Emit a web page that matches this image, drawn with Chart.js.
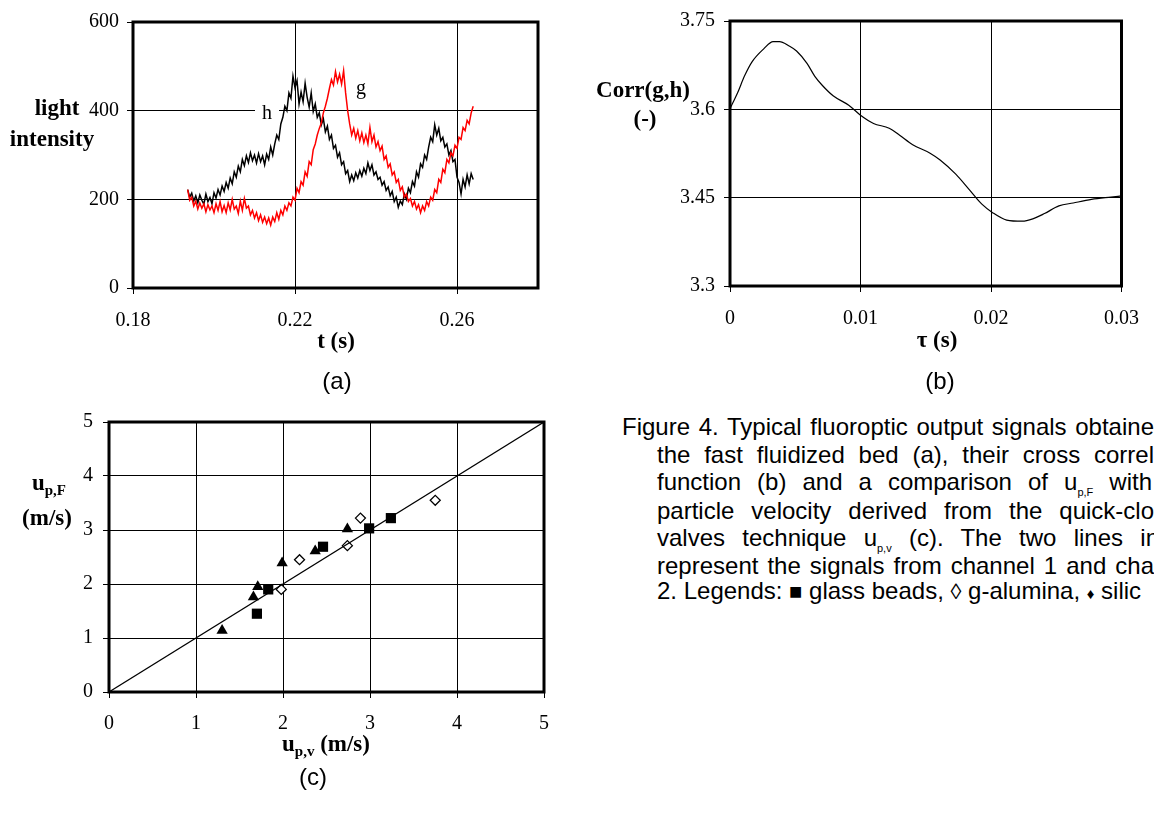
<!DOCTYPE html>
<html>
<head>
<meta charset="utf-8">
<script src="https://cdn.jsdelivr.net/npm/chart.js@4.4.0/dist/chart.umd.min.js"></script>
<style>
  html, body { margin: 0; padding: 0; background: #fff; }
  body { width: 1154px; height: 815px; overflow: hidden; position: relative; }
  canvas { position: absolute; }
  .lbl {
    position: absolute; transform: translate(-50%, -50%);
    font-family: 'Liberation Serif', 'Times New Roman', serif;
    font-weight: bold; font-size: 23px; line-height: 1; white-space: nowrap; color: #000;
  }
  .lbl sub { font-size: 15px; vertical-align: -5px; }
  .plain { font-weight: normal; font-size: 20px; }
  .panel {
    position: absolute; transform: translate(-50%, -50%);
    font-family: 'Liberation Sans', Arial, sans-serif; font-size: 24px; line-height: 1;
  }
  .cap {
    position: absolute; height: 28px; line-height: 28px;
    font-family: 'Liberation Sans', Arial, sans-serif; font-size: 24px; color: #000;
    text-align: justify; text-align-last: justify; white-space: normal;
  }
  .cap sub { font-size: 11px; vertical-align: -6px; line-height: 0; }
</style>
</head>
<body>

<canvas id="chartA" width="520" height="350" style="left:60px;top:0px"></canvas>
<canvas id="chartB" width="504" height="350" style="left:650px;top:0px"></canvas>
<canvas id="chartC" width="560" height="360" style="left:20px;top:400px"></canvas>

<div class="lbl" style="left:57px;top:107px">light</div>
<div class="lbl" style="left:52px;top:138px">intensity</div>
<div class="lbl" style="left:336px;top:340px">t (s)</div>
<div class="lbl plain" style="left:267px;top:112px;background:#fff;padding:0 7px">h</div>
<div class="lbl plain" style="left:361px;top:87px">g</div>
<div class="panel" style="left:337px;top:381px">(a)</div>

<div class="lbl" style="left:643px;top:89px">Corr(g,h)</div>
<div class="lbl" style="left:645px;top:118px">(-)</div>
<div class="lbl" style="left:937px;top:339px">τ (s)</div>
<div class="panel" style="left:940px;top:381px">(b)</div>

<div class="lbl" style="left:49px;top:484px">u<sub>p,F</sub></div>
<div class="lbl" style="left:47px;top:517px">(m/s)</div>
<div class="lbl" style="left:326px;top:745px">u<sub>p,v</sub> (m/s)</div>
<div class="panel" style="left:313px;top:777px">(c)</div>

<div class="cap" style="left:622px;top:413px;width:532px">Figure 4. Typical fluoroptic output signals obtaine</div>
<div class="cap" style="left:657px;top:441px;width:497px">the fast fluidized bed (a), their cross correl</div>
<div class="cap" style="left:657px;top:468px;width:495px">function (b) and a comparison of u<sub>p,F</sub> with</div>
<div class="cap" style="left:657px;top:497px;width:497px">particle velocity derived from the quick-clo</div>
<div class="cap" style="left:657px;top:524px;width:502px">valves technique u<sub>p,v</sub> (c). The two lines in</div>
<div class="cap" style="left:657px;top:552px;width:497px">represent the signals from channel 1 and cha</div>
<div class="cap" style="left:657px;top:577px;width:560px;text-align:left;text-align-last:left;white-space:nowrap">2. Legends: <span style="font-size:22px">■</span> glass beads, <span style="font-size:22px">◊</span> g-alumina, <span style="font-size:15px">♦</span> silic</div>

<script>
// (a) light intensity of the two fibres, sampled every 0.5 ms from t = 0.1935 s
const tStart = 0.1935;
const tStep = 0.0005;
const hSignal = [
  222, 205, 214, 196, 208, 192, 210, 198, 189, 212,
  195, 204, 190, 215, 203, 222, 210, 230, 218, 238,
  225, 248, 235, 262, 250, 275, 262, 290, 276, 298,
  283, 305, 287, 300, 282, 303, 285, 298, 278, 302,
  290, 318, 300, 325, 345, 335, 370, 385, 410, 400,
  440, 428, 478, 452, 468, 415, 442, 420, 462, 430,
  408, 440, 398, 415, 385, 395, 368, 382, 352, 365,
  335, 345, 315, 322, 295, 305, 278, 285, 258, 265,
  240, 255, 242, 260, 248, 265, 252, 270, 258, 282,
  265, 278, 255, 262, 245, 250, 232, 240, 220, 228,
  208, 218, 195, 205, 182, 196, 188, 212, 200, 225,
  215, 240, 230, 262, 250, 280, 272, 300, 290, 318,
  340, 330, 368, 345, 360, 332, 340, 318, 325, 300,
  310, 285, 290, 250, 238, 212, 245, 228, 255, 235,
  258, 245
];
const gSignal = [
  222, 198, 205, 185, 196, 178, 192, 180, 190, 172,
  188, 176, 185, 170, 190, 175, 195, 172, 186, 170,
  192, 176, 200, 178, 185, 168, 196, 175, 202, 180,
  185, 165, 175, 158, 170, 152, 165, 148, 160, 145,
  158, 142, 160, 150, 170, 155, 175, 165, 185, 175,
  192, 185, 205, 198, 225, 215, 240, 232, 262, 252,
  285, 278, 312, 325, 345, 360, 372, 395, 410, 428,
  450, 470, 458, 488, 465, 482, 460, 490, 440, 400,
  370, 345, 360, 338, 355, 332, 350, 328, 345, 325,
  362, 330, 345, 318, 330, 310, 320, 290, 298, 272,
  280, 255, 262, 238, 245, 220, 228, 205, 212, 195,
  202, 185, 195, 178, 188, 170, 185, 175, 195, 185,
  205, 198, 222, 215, 245, 238, 268, 260, 290, 282,
  305, 298, 322, 315, 340, 335, 362, 355, 378, 370,
  395, 410
];
const tTicks = [0.18, 0.22, 0.26];
const intensityTicks = [0, 200, 400, 600];

// (b) cross correlation function
const tauValues = [0, 0.0006, 0.0011, 0.0017, 0.0026, 0.0033, 0.0038, 0.0045, 0.0051, 0.0059,
  0.0065, 0.0071, 0.0079, 0.0091, 0.0100, 0.0110, 0.0122, 0.0130, 0.0140, 0.0153,
  0.0161, 0.0173, 0.0184, 0.0193, 0.0201, 0.0212, 0.0224, 0.0232, 0.0241, 0.0252,
  0.0263, 0.0277, 0.0292, 0.0300];
const corrValues = [3.601, 3.629, 3.656, 3.681, 3.703, 3.715, 3.715, 3.708, 3.699, 3.678,
  3.656, 3.640, 3.623, 3.607, 3.590, 3.576, 3.568, 3.556, 3.540, 3.526,
  3.514, 3.490, 3.462, 3.439, 3.425, 3.412, 3.410, 3.414, 3.423, 3.436,
  3.441, 3.447, 3.451, 3.453];
const tauTicks = [0, 0.01, 0.02, 0.03];
const corrTicks = [3.3, 3.45, 3.6, 3.75];

// (c) u_p,F against u_p,v
const glassX = [1.70, 1.83, 2.46, 2.99, 3.24];
const glassY = [1.45, 1.90, 2.69, 3.03, 3.22];
const aluminaX = [1.98, 2.19, 2.74, 2.89, 3.75];
const aluminaY = [1.90, 2.45, 2.71, 3.22, 3.55];
const silicaX = [1.30, 1.66, 1.71, 1.99, 2.37, 2.74];
const silicaY = [1.14, 1.76, 1.95, 2.39, 2.61, 3.02];
const parityX = [0, 5];
const parityY = [0, 5];
const velTicks = [0, 1, 2, 3, 4, 5];

const serif = "'Liberation Serif', 'Times New Roman', serif";
Chart.defaults.font.family = serif;
Chart.defaults.font.size = 20;
Chart.defaults.color = '#000';

// thick box round the plot area
const framePlugin = {
  id: 'frame',
  afterDatasetsDraw(chart) {
    const a = chart.chartArea;
    const ctx = chart.ctx;
    ctx.save();
    ctx.lineWidth = 3;
    ctx.strokeStyle = '#000';
    ctx.strokeRect(a.left, a.top, a.right - a.left, a.bottom - a.top);
    ctx.restore();
  }
};

function axis(min, max, ticks, fmt, size, isX, pad) {
  return {
    type: 'linear',
    min: min,
    max: max,
    afterBuildTicks: s => { s.ticks = ticks.map(v => ({ value: v })); },
    afterFit: s => { if (isX) s.height = size; else s.width = size; },
    grid: { color: '#000', lineWidth: 1, tickLength: 6, drawTicks: true },
    border: { display: false },
    ticks: {
      padding: pad, maxRotation: 0, autoSkip: false, callback: fmt,
      color: '#000', font: { family: serif, size: 20 }
    }
  };
}

function toPoints(xs, ys) {
  return xs.map((x, i) => ({ x: x, y: ys[i] }));
}

const baseOptions = {
  responsive: false,
  animation: false,
  plugins: { legend: { display: false }, tooltip: { enabled: false } }
};

new Chart(document.getElementById('chartA'), {
  type: 'line',
  data: {
    datasets: [
      {
        data: gSignal.map((v, i) => ({ x: tStart + i * tStep, y: v })),
        borderColor: '#ff0000', borderWidth: 1.5, pointRadius: 0, order: 0
      },
      {
        data: hSignal.map((v, i) => ({ x: tStart + i * tStep, y: v })),
        borderColor: '#000000', borderWidth: 1.5, pointRadius: 0, order: 1
      }
    ]
  },
  options: {
    ...baseOptions,
    layout: { padding: { top: 22, right: 42, left: 0, bottom: 0 } },
    scales: {
      x: axis(0.18, 0.28, tTicks, v => v.toFixed(2), 62, true, 15),
      y: axis(0, 600, intensityTicks, v => String(v), 73, false, 8)
    }
  },
  plugins: [framePlugin]
});

new Chart(document.getElementById('chartB'), {
  type: 'line',
  data: {
    datasets: [{
      data: toPoints(tauValues, corrValues),
      borderColor: '#000', borderWidth: 1.2, pointRadius: 0,
      cubicInterpolationMode: 'monotone'
    }]
  },
  options: {
    ...baseOptions,
    layout: { padding: { top: 13, right: 20, left: 0, bottom: 0 } },
    scales: {
      x: axis(0, 0.03, tauTicks, v => String(v), 64, true, 15),
      y: axis(3.3, 3.75, corrTicks, v => String(v), 80, false, 9)
    }
  },
  plugins: [framePlugin]
});

new Chart(document.getElementById('chartC'), {
  type: 'scatter',
  data: {
    datasets: [
      {
        data: toPoints(parityX, parityY), showLine: true,
        borderColor: '#000', borderWidth: 1.2, pointRadius: 0
      },
      {
        data: toPoints(glassX, glassY), pointStyle: 'rect', pointRadius: 7.2,
        backgroundColor: '#000', borderColor: '#000', borderWidth: 0
      },
      {
        data: toPoints(silicaX, silicaY), pointStyle: 'triangle', pointRadius: 6.5,
        backgroundColor: '#000', borderColor: '#000', borderWidth: 0
      },
      {
        data: toPoints(aluminaX, aluminaY), pointStyle: 'rectRot', pointRadius: 5,
        backgroundColor: '#fff', borderColor: '#000', borderWidth: 1.3
      }
    ]
  },
  options: {
    ...baseOptions,
    layout: { padding: { top: 17, right: 36, left: 0, bottom: 0 } },
    scales: {
      x: axis(0, 5, velTicks, v => String(v), 68, true, 14),
      y: axis(0, 5, velTicks, v => String(v), 89, false, 10)
    }
  },
  plugins: [framePlugin]
});
</script>
</body>
</html>
